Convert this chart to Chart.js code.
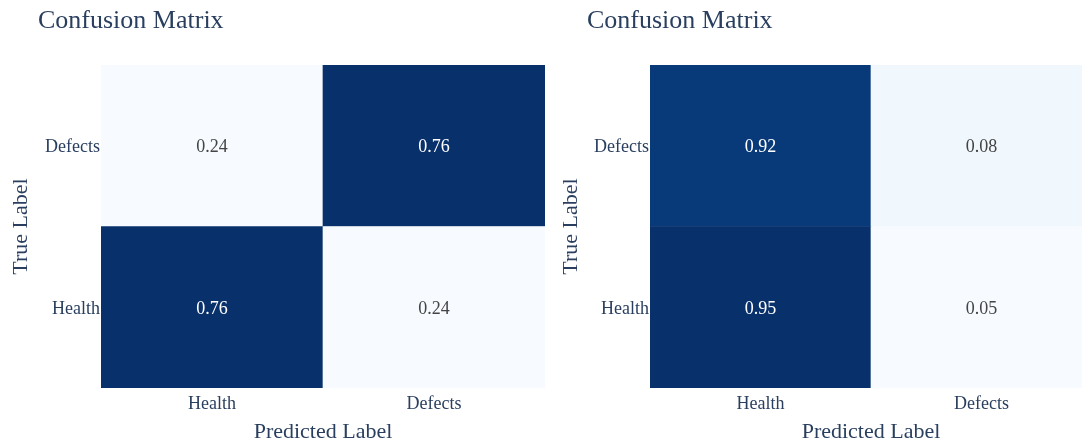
<!DOCTYPE html>
<html>
<head>
<meta charset="utf-8">
<script src="https://cdn.jsdelivr.net/npm/chart.js@4.4.1/dist/chart.umd.min.js"></script>
<style>
  body { margin: 0; background: #fff; overflow: hidden; }
  #wrap { position: relative; width: 1082px; height: 444px; overflow: hidden; }
  canvas { position: absolute; top: 0; }
</style>
</head>
<body>
<div id="wrap">
  <canvas id="cmA" width="560" height="444" style="left:0"></canvas>
  <canvas id="cmB" width="532" height="444" style="left:560px"></canvas>
</div>
<script>
// Rótulos e valores das matrizes
const predLabels = ['Health', 'Defects'];
const trueLabels = ['Health', 'Defects']; // de baixo para cima
const tituloMatriz = 'Confusion Matrix';

// linhas = rótulo verdadeiro (Health, Defects), colunas = rótulo previsto
const matrizA = [
  [0.76, 0.24],
  [0.24, 0.76]
];
const matrizB = [
  [0.95, 0.05],
  [0.92, 0.08]
];

const FONTE = "'Liberation Serif', 'Times New Roman', serif";
const COR_TEXTO = '#2a3f5f';

// Escala "Blues"
const blues = [
  [0, [247, 251, 255]], [0.125, [222, 235, 247]], [0.25, [198, 219, 239]],
  [0.375, [158, 202, 225]], [0.5, [107, 174, 214]], [0.625, [66, 146, 198]],
  [0.75, [33, 113, 181]], [0.875, [8, 81, 156]], [1, [8, 48, 107]]
];

function corDaEscala(t) {
  t = Math.max(0, Math.min(1, t));
  for (let i = 1; i < blues.length; i++) {
    if (t <= blues[i][0]) {
      const [p0, c0] = blues[i - 1];
      const [p1, c1] = blues[i];
      const f = (t - p0) / (p1 - p0);
      const c = c0.map((v, k) => Math.round(v + (c1[k] - v) * f));
      return `rgb(${c[0]},${c[1]},${c[2]})`;
    }
  }
  return 'rgb(8,48,107)';
}

// dados auxiliares de cada gráfico (por id do canvas)
const infoMatrizes = {};

// Texto dentro de cada célula
const valoresPlugin = {
  id: 'valoresCelulas',
  afterDatasetsDraw(chart) {
    const { ctx } = chart;
    const info = infoMatrizes[chart.canvas.id];
    ctx.save();
    ctx.font = `18px ${FONTE}`;
    ctx.textAlign = 'center';
    ctx.textBaseline = 'middle';
    chart.data.datasets.forEach((ds, linha) => {
      chart.getDatasetMeta(linha).data.forEach((bar, col) => {
        const v = info.matriz[linha][col];
        ctx.fillStyle = info.norm(v) > 0.5 ? '#ffffff' : '#444444';
        ctx.fillText(v.toFixed(2), bar.x, (bar.y + bar.base) / 2 + 2);
      });
    });
    ctx.restore();
  }
};

// Título alinhado à esquerda
const tituloPlugin = {
  id: 'tituloFixo',
  afterDraw(chart) {
    const info = infoMatrizes[chart.canvas.id];
    const { ctx } = chart;
    ctx.save();
    ctx.font = `26px ${FONTE}`;
    ctx.fillStyle = COR_TEXTO;
    ctx.textAlign = 'left';
    ctx.textBaseline = 'alphabetic';
    ctx.fillText(tituloMatriz, info.tituloX, 28);
    ctx.restore();
  }
};

function criarMatriz(id, matriz, cfg) {
  const todos = matriz.flat();
  const zmin = Math.min(...todos);
  const zmax = Math.max(...todos);
  const norm = v => (v - zmin) / (zmax - zmin);
  infoMatrizes[id] = { matriz: matriz, norm: norm, tituloX: cfg.tituloX };

  const datasets = trueLabels.map((rot, linha) => ({
    label: rot,
    data: predLabels.map(() => [linha, linha + 1]),
    backgroundColor: matriz[linha].map(v => corDaEscala(norm(v))),
    borderWidth: 0,
    barPercentage: 1,
    categoryPercentage: 1,
    grouped: false
  }));

  new Chart(document.getElementById(id), {
    type: 'bar',
    data: { labels: predLabels, datasets: datasets },
    options: {
      responsive: false,
      animation: false,
      layout: { padding: { top: 65, right: cfg.padDireita, left: 0, bottom: 0 } },
      plugins: {
        legend: { display: false },
        tooltip: { enabled: false }
      },
      scales: {
        x: {
          grid: { display: false, drawTicks: false },
          border: { display: false },
          ticks: { color: COR_TEXTO, font: { family: FONTE, size: 18 }, padding: 5 },
          title: {
            display: true, text: 'Predicted Label', color: COR_TEXTO,
            font: { family: FONTE, size: 22, lineHeight: 1 },
            padding: { top: 0, bottom: 1 }
          },
          afterFit(scale) { scale.height = 56; }
        },
        y: {
          min: 0, max: 2,
          grid: { display: false, drawTicks: false },
          border: { display: false },
          afterBuildTicks(scale) {
            scale.ticks = trueLabels.map((_, i) => ({ value: i + 0.5 }));
          },
          ticks: {
            color: COR_TEXTO, font: { family: FONTE, size: 18 }, padding: 1,
            labelOffset: 2,
            callback: v => trueLabels[Math.floor(v)]
          },
          title: {
            display: true, text: 'True Label', color: COR_TEXTO,
            font: { family: FONTE, size: 22, lineHeight: 1 },
            padding: { top: cfg.tituloYPad, bottom: 0 }
          },
          afterFit(scale) { scale.width = cfg.larguraY; }
        }
      }
    },
    plugins: [valoresPlugin, tituloPlugin]
  });
}

criarMatriz('cmA', matrizA, { larguraY: 101, padDireita: 15, tituloX: 38, tituloYPad: 10 });
criarMatriz('cmB', matrizB, { larguraY: 90, padDireita: 0, tituloX: 27, tituloYPad: 0 });
</script>
</body>
</html>
